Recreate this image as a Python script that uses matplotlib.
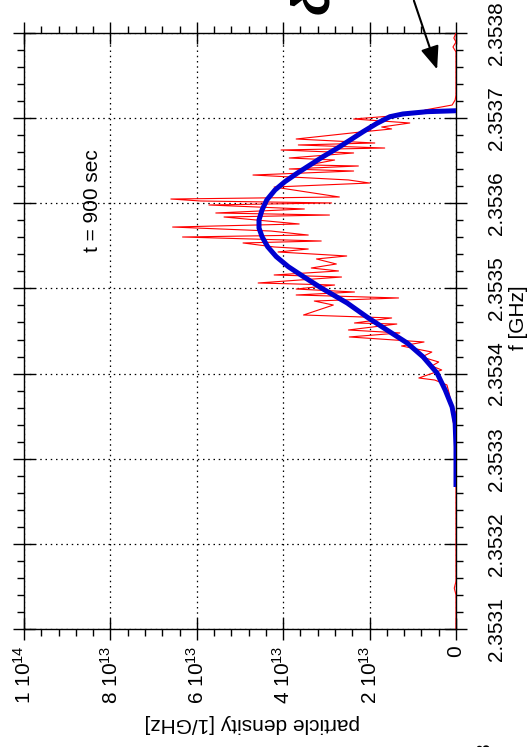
import matplotlib
matplotlib.use('Agg')
import matplotlib.pyplot as plt
from matplotlib.ticker import MultipleLocator
from matplotlib.patches import FancyArrowPatch, ArrowStyle
import numpy as np

plt.rcParams['font.family'] = ['Liberation Sans', 'DejaVu Sans']
plt.rcParams['mathtext.default'] = 'regular'

# ---------------- data ----------------
# measured spectrum (red): frequency [GHz], particle density [1e12 / GHz]
red_freq = [2.3531000, 2.3531400, 2.3531480, 2.3531560, 2.3533220, 2.3533455,
            2.3533537, 2.3533607, 2.3533772, 2.3533866, 2.3533924, 2.3533948,
            2.3534042, 2.3534089, 2.3534136, 2.3534195, 2.3534253, 2.3534324,
            2.3534371, 2.3534430, 2.3534477, 2.3534512, 2.3534582, 2.3534594,
            2.3534653, 2.3534688, 2.3534805, 2.3534852, 2.3534888, 2.3534923,
            2.3534958, 2.3534993, 2.3535040, 2.3535064, 2.3535134, 2.3535158,
            2.3535205, 2.3535240, 2.3535287, 2.3535346, 2.3535381, 2.3535428,
            2.3535463, 2.3535487, 2.3535534, 2.3535557, 2.3535604, 2.3535627,
            2.3535674, 2.3535721, 2.3535757, 2.3535839, 2.3535862, 2.3535886,
            2.3535933, 2.3535980, 2.3536004, 2.3536027, 2.3536050, 2.3536074,
            2.3536191, 2.3536238, 2.3536274, 2.3536332, 2.3536379, 2.3536403,
            2.3536438, 2.3536450, 2.3536508, 2.3536532, 2.3536591, 2.3536626,
            2.3536649, 2.3536685, 2.3536708, 2.3536755, 2.3536838, 2.3536873,
            2.3536896, 2.3536943, 2.3536990, 2.3537072, 2.3537096, 2.3537154,
            2.3537213, 2.3537272, 2.3537777, 2.3537836, 2.3537894, 2.3537941,
            2.3538000]
red_dens = [0.0, 0.0, 0.4, 0.0, 0.0, 0.7,
            0.0, 0.9, 1.6, 2.1, 4.9, 8.6,
            3.3, 5.6, 4.0, 7.9, 5.6, 12.6,
            7.4, 24.7, 13.0, 24.9, 13.7, 23.5,
            14.9, 35.3, 28.4, 32.8, 13.3, 37.0,
            23.5, 37.0, 28.1, 45.8, 26.5, 42.1,
            27.2, 33.5, 27.7, 32.3, 25.3, 41.2,
            34.2, 42.1, 49.3, 31.2, 63.3, 34.2,
            42.8, 65.6, 36.3, 53.7, 29.3, 55.6,
            35.1, 57.2, 28.8, 59.1, 66.0, 27.0,
            42.1, 20.0, 24.9, 47.0, 23.7, 38.6,
            22.6, 34.2, 28.1, 38.6, 23.7, 40.5,
            16.5, 36.5, 18.8, 37.0, 21.9, 14.9,
            17.2, 10.7, 23.7, 3.3, 7.2, 0.9,
            0.2, 0.0, 0.0, 0.7, 0.0, 0.5,
            0.0]

# fitted curve (blue)
blue_freq = [2.3532668, 2.3533138, 2.3533420, 2.3533607, 2.3533807, 2.3534007,
             2.3534195, 2.3534359, 2.3534512, 2.3534664, 2.3534829, 2.3535000,
             2.3535138, 2.3535255, 2.3535373, 2.3535490, 2.3535608, 2.3535710,
             2.3535804, 2.3535921, 2.3536039, 2.3536156, 2.3536254, 2.3536352,
             2.3536450, 2.3536547, 2.3536646, 2.3536743, 2.3536841, 2.3536939,
             2.3537017, 2.3537049, 2.3537076, 2.3537087]
blue_dens = [0.0, 0.0, 0.2, 0.9, 2.5, 4.4,
             7.6, 11.3, 16.0, 20.6, 25.2, 31.0,
             35.3, 38.8, 41.6, 43.6, 44.9, 45.6,
             45.6, 44.9, 43.8, 41.9, 39.6, 36.8,
             33.8, 30.8, 27.5, 24.5, 21.5, 18.3,
             15.3, 12.3, 6.7, 0.0]

dens_ticks = [0, 2e13, 4e13, 6e13, 8e13, 1e14]
dens_labels = ['0', '2 10$^{13}$', '4 10$^{13}$', '6 10$^{13}$', '8 10$^{13}$', '1 10$^{14}$']
freq_ticks = [2.3531, 2.3532, 2.3533, 2.3534, 2.3535, 2.3536, 2.3537, 2.3538]
freq_labels = ['2.3531', '2.3532', '2.3533', '2.3534', '2.3535', '2.3536', '2.3537', '2.3538']

# ---------------- figure ----------------
W, H = 528, 747
fig = plt.figure(figsize=(W / 100, H / 100), dpi=100)
ax = fig.add_axes([24 / W, 1 - 629 / H, (456 - 24) / W, (629 - 33) / H])

ax.plot(np.array(red_dens) * 1e12, red_freq, color='#ff0000', lw=0.8, zorder=3)
ax.plot(np.array(blue_dens) * 1e12, blue_freq, color='#0000d0', lw=3.6, zorder=4,
        solid_joinstyle='round', solid_capstyle='butt')

ax.set_xlim(1e14, 0)
ax.set_ylim(2.3531, 2.3538)

ax.set_xticks(dens_ticks, labels=dens_labels, rotation=90, ha='center', va='top')
ax.set_yticks(freq_ticks, labels=freq_labels, rotation=90, ha='left', va='center')
ax.xaxis.set_minor_locator(MultipleLocator(4e12))
ax.yaxis.set_minor_locator(MultipleLocator(2e-5))

ax.tick_params(which='major', direction='inout', length=16, width=1,
               top=True, bottom=True, left=True, right=True,
               labelleft=False, labelright=True, labeltop=False, labelbottom=True,
               labelsize=15)
ax.tick_params(axis='x', which='major', pad=4)
ax.tick_params(axis='y', which='major', pad=14)
ax.tick_params(which='minor', direction='out', length=5, width=1,
               top=True, bottom=True, left=True, right=True)

ax.grid(True, which='major', color='black', linestyle=(0, (1.2, 3)), lw=0.9)
for s in ax.spines.values():
    s.set_linewidth(1)

fig.text(252 / W, 1 - 723 / H, 'particle density [1/GHz]', rotation=180,
         ha='center', va='center', fontsize=15)
fig.text(519 / W, 1 - 318 / H, 'f [GHz]', rotation=90,
         ha='center', va='center', fontsize=15)
fig.text(93 / W, 1 - 201 / H, 't = 900 sec', rotation=90,
         ha='center', va='center', fontsize=15)
fig.text(314 / W, 1 + 2 / H, 'δ', rotation=90, style='italic', weight='bold',
         ha='center', va='center', fontsize=38)
fig.text(485 / W, 1 - 749 / H, '8', rotation=90,
         ha='center', va='center', fontsize=15)

arrow = FancyArrowPatch((413 / W, 1 + 2 / H), (438 / W, 1 - 72 / H),
                        transform=fig.transFigure,
                        arrowstyle=ArrowStyle('-|>', head_length=1.0, head_width=0.4),
                        mutation_scale=14, lw=1.5, color='black')
fig.add_artist(arrow)

fig.savefig('out.png', dpi=100)
